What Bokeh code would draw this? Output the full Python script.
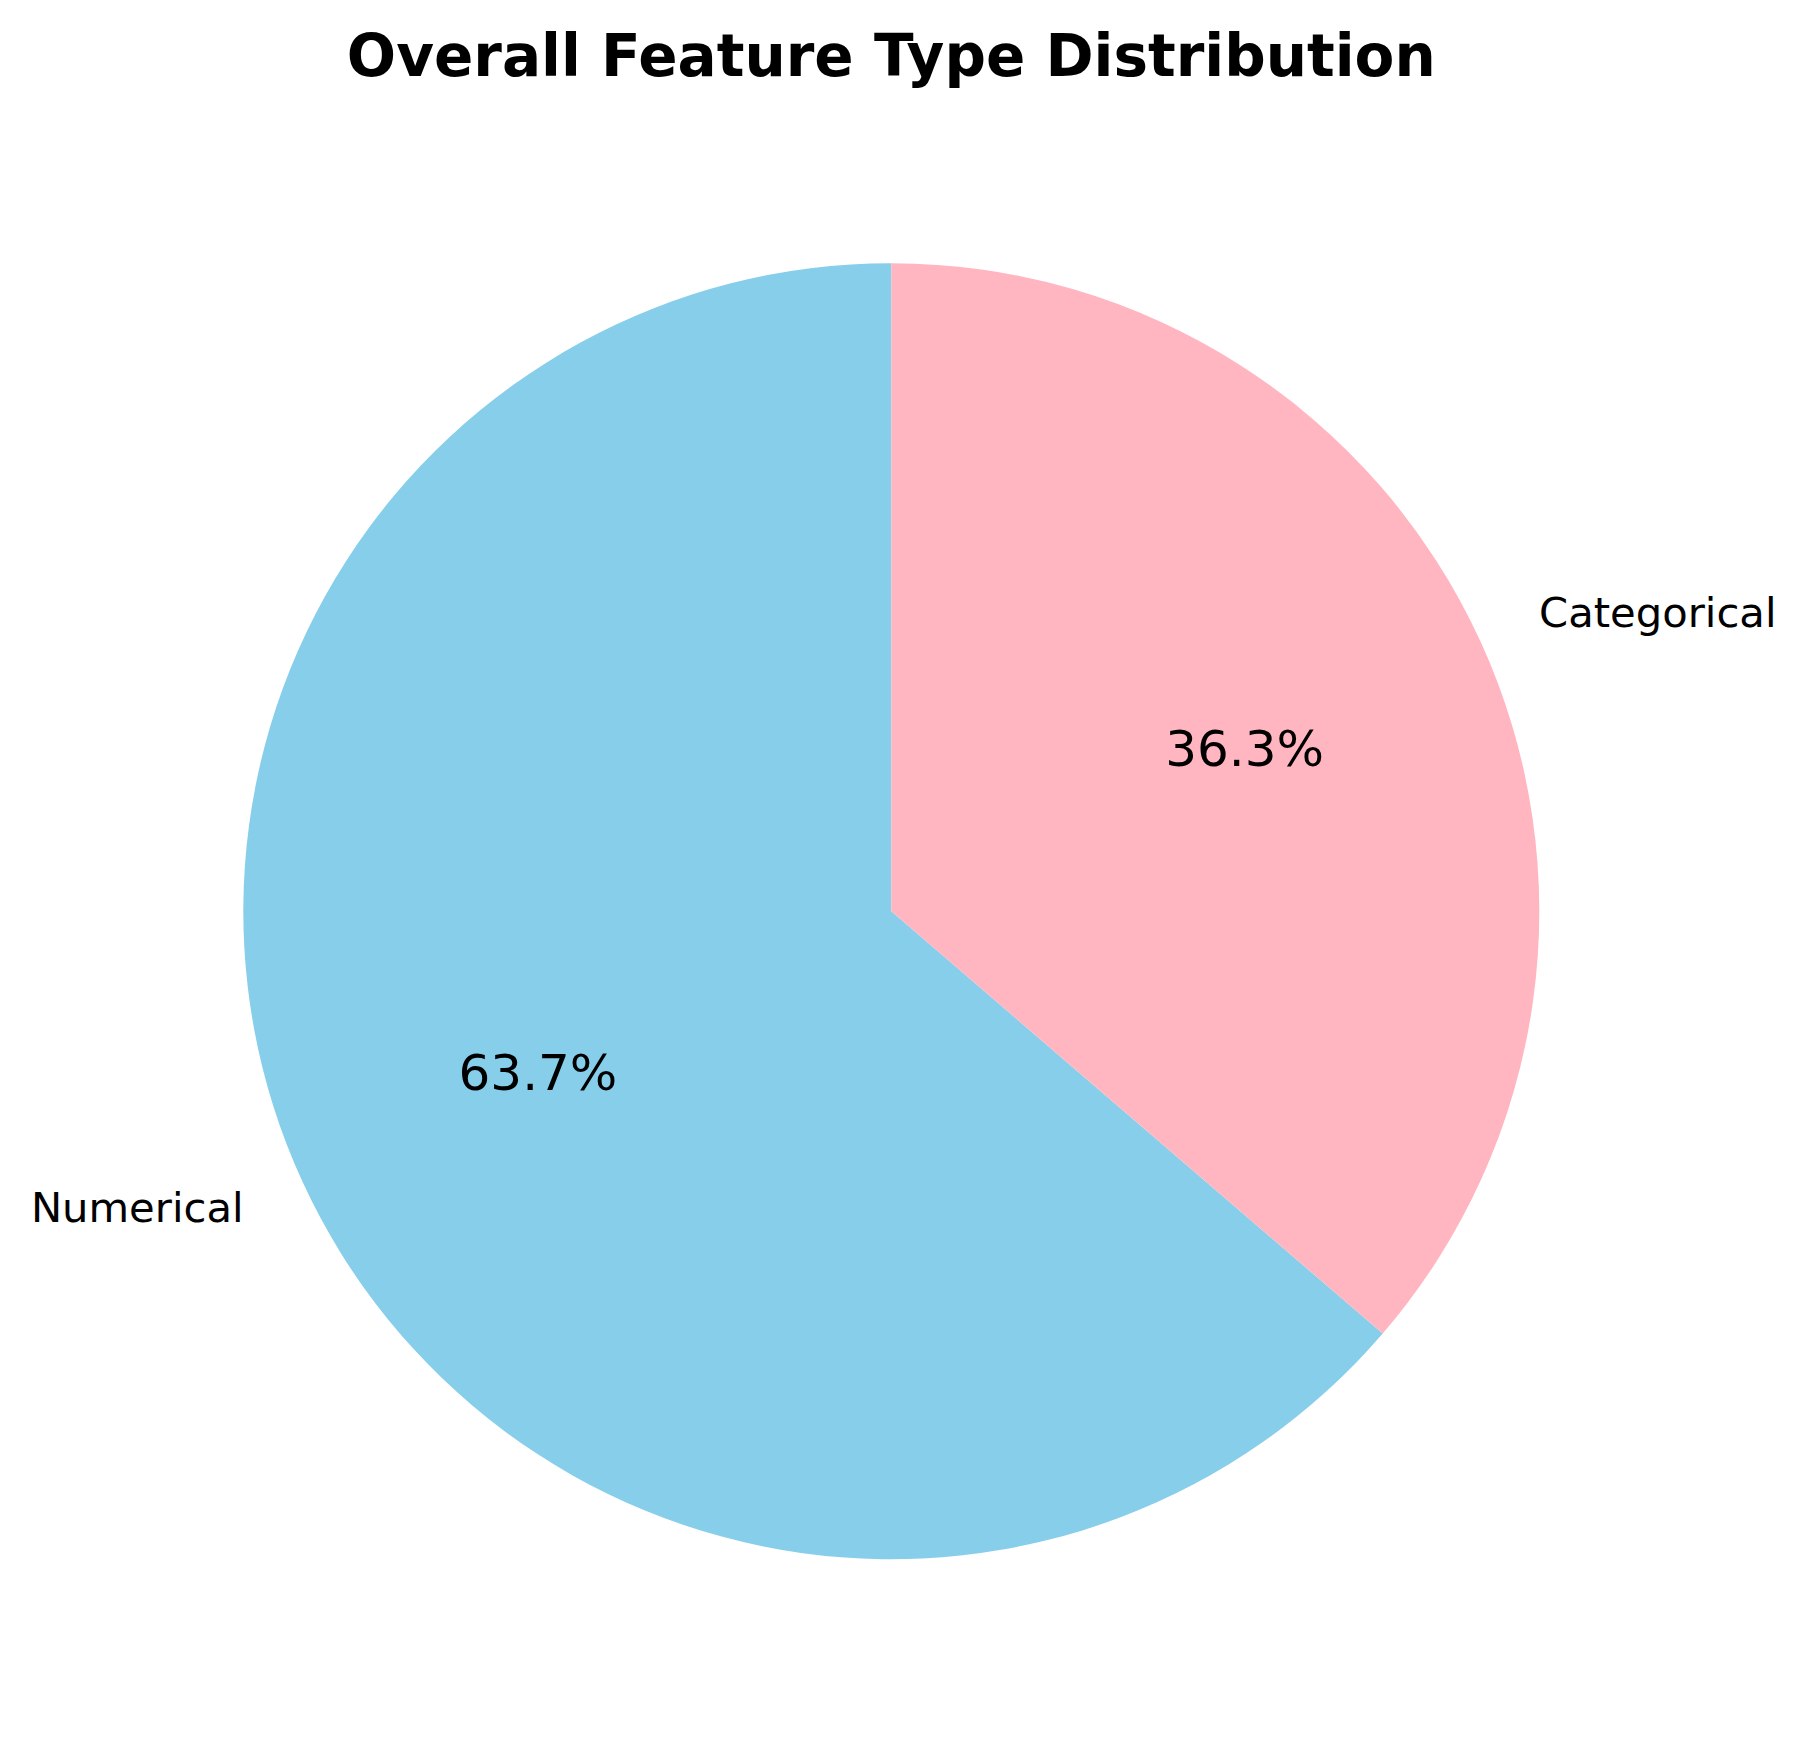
import math
from bokeh.plotting import figure
from bokeh.models import Range1d, Label
from bokeh.core.properties import value
from bokeh.embed import file_html
from bokeh.resources import INLINE

# Data
categories = ["Numerical", "Categorical"]
shares = [63.7, 36.3]
colors = ["#87CEEB", "#FFB6C1"]
title_text = "Overall Feature Type Distribution"

W, H = 1790, 1736
R_PX = 648.0
CX, CY = 890.8, 910.7  # pie center in figure pixels (from top-left)

p = figure(width=W, height=H, output_backend="svg", toolbar_location=None,
           min_border=0, outline_line_color=None,
           x_range=Range1d(-CX / R_PX, (W - CX) / R_PX),
           y_range=Range1d(-(H - CY) / R_PX, CY / R_PX))
p.axis.visible = False
p.grid.visible = False
p.background_fill_color = "white"
p.border_fill_color = "white"

total = sum(shares)
start = math.pi / 2
font = value("DejaVu Sans")
for cat, s, c in zip(categories, shares, colors):
    span = 2 * math.pi * s / total
    end = start + span
    p.wedge(x=0, y=0, radius=1.0, start_angle=start, end_angle=end,
            direction="anticlock", fill_color=c, line_color=None)
    mid = start + span / 2
    cx, cy = math.cos(mid), math.sin(mid)
    # category label at 1.1 r
    p.text(x=[1.1 * cx], y=[1.1 * cy], text=[cat], text_font=font,
           text_font_size="41.7px", text_color="black",
           text_align="left" if cx >= 0 else "right",
           text_baseline="alphabetic", y_offset=-1)
    # percentage at 0.6 r
    p.text(x=[0.6 * cx], y=[0.6 * cy], text=["%.1f%%" % (100 * s / total)],
           text_font=font, text_font_size="50px", text_color="black",
           text_align="center", text_baseline="alphabetic", y_offset=0)
    start = end

p.add_layout(Label(x=CX, y=H - 55.5, x_units="screen", y_units="screen",
                   text=title_text, text_font="DejaVu Sans", text_font_style="bold",
                   text_font_size="58px", text_align="center",
                   text_baseline="alphabetic", text_color="black"))

open("out.html", "w").write(file_html(p, INLINE))
